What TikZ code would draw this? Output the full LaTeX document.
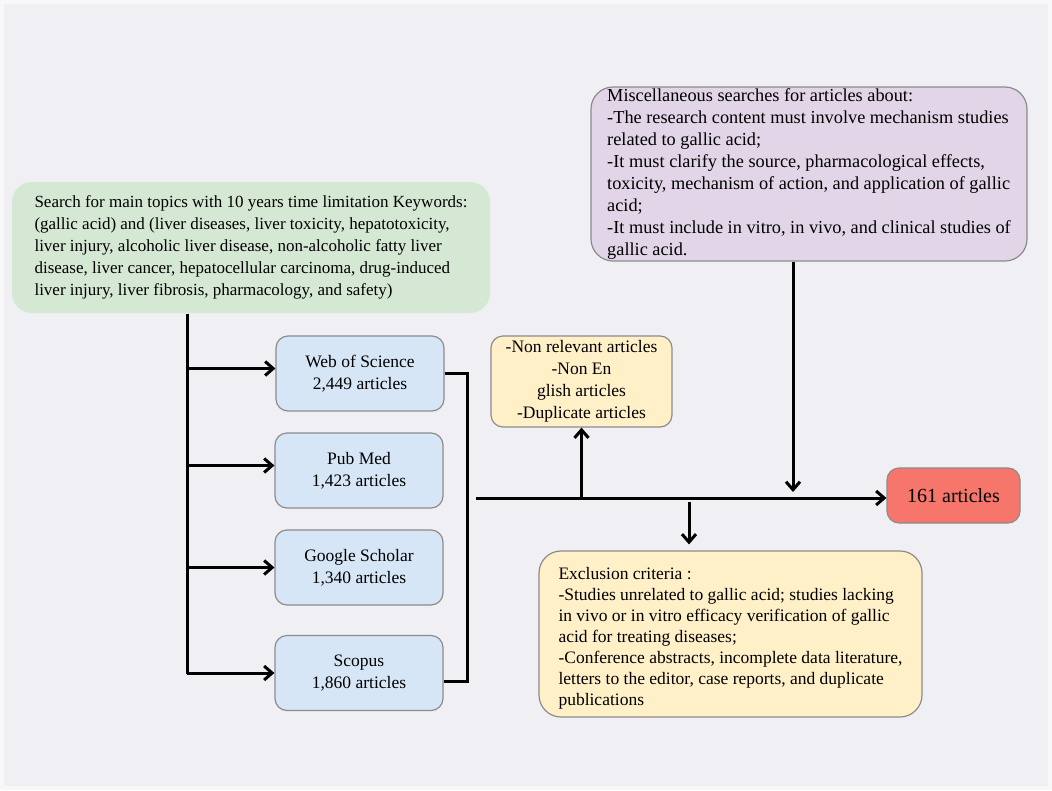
\documentclass[tikz,border=0pt]{standalone}
\usepackage{fontspec}
\setmainfont{Liberation Serif}
\usetikzlibrary{arrows.meta,calc}
\definecolor{bgc}{HTML}{EFEFF4}
\definecolor{bgedge}{HTML}{F8F8FA}
\definecolor{greenf}{HTML}{D5E8D4}
\definecolor{purplef}{HTML}{E1D5E7}
\definecolor{bluef}{HTML}{D6E6F7}
\definecolor{yellowf}{HTML}{FFF0C8}
\definecolor{redf}{HTML}{F6766C}
\definecolor{edgec}{HTML}{8C8C8C}
\tikzset{
  box/.style={draw=edgec, line width=1.2pt, rounded corners=12pt, inner sep=3pt,
    font=\fontsize{17.5}{22}\selectfont},
  srcbox/.style={box, fill=bluef, minimum width=168pt, minimum height=75pt, align=center},
  conn/.style={line width=3pt, black},
  arr/.style={conn, -{Straight Barb[length=8pt,width=14pt,line width=3pt]}},
}
\begin{document}
\begin{tikzpicture}[x=1pt,y=-1pt]
\fill[bgedge] (0,0) rectangle (1052,790);
\fill[bgc] (4,4) rectangle (1048,786);
\useasboundingbox (0,0) rectangle (1052,790);

\node[box, draw=none, fill=greenf, rounded corners=20pt, minimum width=478pt, minimum height=131pt, align=left, font=\fontsize{17}{22}\selectfont] (green) at (251,247.5)
{Search for main topics with 10 years time limitation Keywords:\\
(gallic acid) and (liver diseases, liver toxicity, hepatotoxicity,\\
liver injury, alcoholic liver disease, non-alcoholic fatty liver\\
disease, liver cancer, hepatocellular carcinoma, drug-induced\\
liver injury, liver fibrosis, pharmacology, and safety)};

\node[box, fill=purplef, rounded corners=22pt, minimum width=436pt, minimum height=174pt, align=left, inner sep=1pt, font=\fontsize{18.3}{22.1}\selectfont] (misc) at (809,174)
{Miscellaneous searches for articles about:\\
-The research content must involve mechanism studies\\
related to gallic acid;\\
-It must clarify the source, pharmacological effects,\\
toxicity, mechanism of action, and application of gallic\\
acid;\\
-It must include in vitro, in vivo, and clinical studies of\\
gallic acid.};

\node[srcbox] (wos) at (360,373.5) {Web of Science\\2,449 articles};
\node[srcbox] (pub) at (359,470.5) {Pub Med\\1,423 articles};
\node[srcbox] (gs) at (359,567.5) {Google Scholar\\1,340 articles};
\node[srcbox] (sco) at (359,673) {Scopus\\1,860 articles};

\node[box, fill=yellowf, minimum width=181pt, minimum height=91pt, align=center, inner sep=1pt] (nonrel) at (581.5,381.5)
{-Non relevant articles\\-Non En\\glish articles\\-Duplicate articles};

\node[box, fill=redf, minimum width=133pt, minimum height=55pt, font=\fontsize{20}{24}\selectfont] (out) at (953.5,495.5) {161 articles};

\node[box, fill=yellowf, rounded corners=22pt, minimum width=383pt, minimum height=166pt, align=left, inner sep=1pt, font=\fontsize{17.5}{21}\selectfont] (excl) at (730.5,634)
{\rule{0pt}{20.5pt}Exclusion criteria\ :\\
-Studies unrelated to gallic acid; studies lacking\\
in vivo or in vitro efficacy verification of gallic\\
acid for treating diseases;\\
-Conference abstracts, incomplete data literature,\\
letters to the editor, case reports, and duplicate\\
publications};

% trunk from green box
\coordinate (tb) at (187,674);
\draw[conn] (tb |- green.south) -- (tb);
\draw[arr] ($(tb |- wos.west)+(0,-5)$) -- ($(wos.west)+(0,-5)$);
\draw[arr] ($(tb |- pub.west)+(0,-5)$) -- ($(pub.west)+(0,-5)$);
\draw[arr] (tb |- gs.west) -- (gs.west);
\draw[arr] (tb |- sco.west) -- (sco.west);

% bracket
\coordinate (br) at (467,0);
\draw[conn] (wos.east) -- (br |- wos.east) -- ($(br |- sco.east)+(0,8)$) -- ($(sco.east)+(0,8)$);

% main line
\coordinate (hs) at (476,498);
\draw[arr] (hs) -- (hs -| out.west);

% up to non relevant
\draw[arr] (nonrel.south |- hs) -- (nonrel.south);

% down from misc
\coordinate (pa) at (793,492);
\draw[arr] (pa |- misc.south) -- (pa);

% down to exclusion
\coordinate (ea) at (689,502);
\draw[arr] (ea) -- ($(ea |- excl.north)+(0,-6)$);
\end{tikzpicture}
\end{document}
